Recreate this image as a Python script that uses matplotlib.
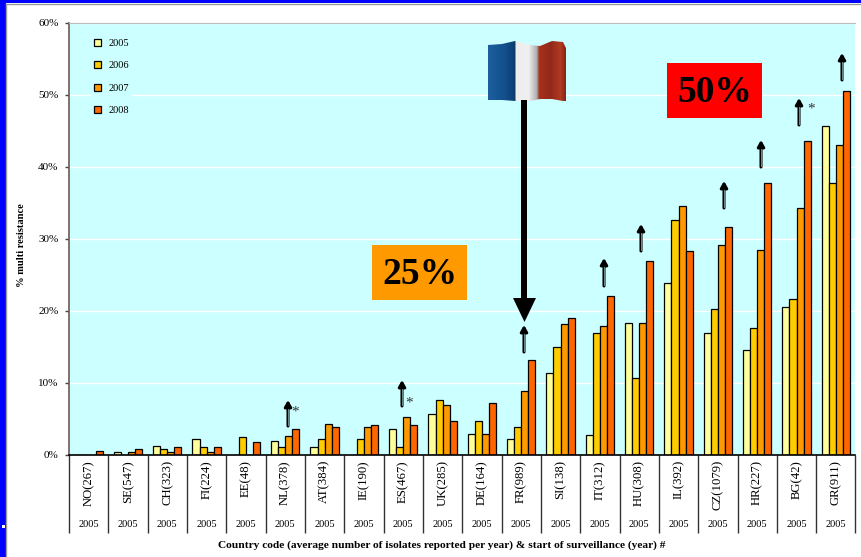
import numpy as np
import matplotlib
matplotlib.use("Agg")
import matplotlib.pyplot as plt
from matplotlib.patches import Rectangle, Polygon
from matplotlib.colors import to_rgb

plt.rcParams['font.family'] = ['Liberation Serif', 'DejaVu Serif']

countries = ["NO(267)", "SE(547)", "CH(323)", "FI(224)", "EE(48)", "NL(378)", "AT(384)",
             "IE(190)", "ES(467)", "UK(285)", "DE(164)", "FR(989)", "SI(138)", "IT(312)",
             "HU(308)", "IL(392)", "CZ(1079)", "HR(227)", "BG(42)", "GR(911)"]
start_year = ["2005"] * 20
years = ["2005", "2006", "2007", "2008"]

r2005 = [0, 0.3, 1.2, 2.1, 0, 1.9, 1.0, 0, 3.6, 5.7, 2.9, 2.1, 11.4, 2.7, 18.3, 23.8, 16.9, 14.5, 20.5, 45.7]
r2006 = [0, 0, 0.7, 1.0, 2.4, 1.0, 2.1, 2.1, 1.0, 7.6, 4.7, 3.8, 15.0, 16.9, 10.7, 32.6, 20.2, 17.6, 21.6, 37.8]
r2007 = [0, 0.3, 0.3, 0.3, 0, 2.6, 4.3, 3.8, 5.2, 6.9, 2.9, 8.8, 18.1, 17.8, 18.3, 34.5, 29.2, 28.5, 34.3, 43.1]
r2008 = [0.5, 0.7, 1.0, 1.0, 1.7, 3.6, 3.8, 4.1, 4.1, 4.6, 7.2, 13.1, 19.0, 22.1, 26.9, 28.3, 31.7, 37.7, 43.6, 50.5]
series = [r2005, r2006, r2007, r2008]
colors = ["#FFFF99", "#FFCC00", "#FF9900", "#FF6600"]

W, H = 862, 557
fig = plt.figure(figsize=(W / 100, H / 100), dpi=100, facecolor="white")
left, right, top, bottom = 69, 855.5, 23, 454.5
ax = fig.add_axes([left / W, 1 - bottom / H, (right - left) / W, (bottom - top) / H], facecolor="#CCFFFF")

x = np.arange(len(countries)) + 0.5
width = 0.18
for i, vals in enumerate(series):
    ax.bar(x + (i - 1.5) * width, vals, width, color=colors[i], edgecolor="black", linewidth=0.9,
           label=years[i], zorder=3)

ax.set_xlim(0, len(countries))
ax.set_ylim(0, 60)
ax.set_yticks(np.arange(0, 61, 10))
ax.set_yticklabels([f"{v}%" for v in range(0, 61, 10)], fontsize=8)
ax.grid(axis="y", color="white", linewidth=1.0, zorder=1)
ax.set_axisbelow(True)
ax.tick_params(axis="y", length=3, width=1, color="#444444", pad=4.5)
ax.set_xticks(np.arange(len(countries) + 1))
ax.set_xticklabels([])
ax.tick_params(axis="x", length=56.5, width=1, color="#333333")
ax.spines["top"].set_color("#BBBBBB")
ax.spines["right"].set_visible(False)
ax.spines["left"].set_color("#6B5A50")
ax.spines["left"].set_linewidth(1.2)
ax.spines["bottom"].set_color("black")
ax.spines["bottom"].set_linewidth(1.2)
ax.spines["bottom"].set_zorder(5)

for xi, name, yr in zip(x, countries, start_year):
    ax.annotate(name, (xi, 0), xytext=(0, -4), textcoords="offset points", rotation=90,
                ha="center", va="top", fontsize=9.2, annotation_clip=False)
    ax.annotate(yr, (xi, 0), xytext=(0, -50.5), textcoords="offset points",
                ha="center", va="center", fontsize=7.5, annotation_clip=False)

leg = ax.legend(loc="upper left", bbox_to_anchor=(22 / 786.5, 0.971), fontsize=7.5, frameon=True,
                facecolor="#CCFFFF", edgecolor="none", framealpha=1, handlelength=0.65, handleheight=0.65,
                handletextpad=0.7, labelspacing=1.28, borderpad=0.3, borderaxespad=0)
leg.set_zorder(4)

# overlay in pixel coordinates for the slide decorations
ov = fig.add_axes([0, 0, 1, 1], facecolor="none")
ov.axis("off")

ov.add_patch(Rectangle((0, 0), 6, H, color="#0000FF", lw=0))
ov.add_patch(Rectangle((0, 0), W, 3, color="#0000FF", lw=0))
ov.add_patch(Rectangle((2, 525), 3, 3, color="white", lw=0))
ov.plot([6.5, W], [3.7, 3.7], color="#999999", lw=1)
ov.plot([6.5, 6.5], [3.7, H], color="#999999", lw=1)

fig.text(22 / W, 1 - 245 / H, "% multi resistance", rotation=90, fontsize=7.6, fontweight="bold",
         ha="center", va="center")
fig.text(441.5 / W, 1 - 545 / H, "Country code (average number of isolates reported per year) & start of surveillance (year) #",
         fontsize=8.2, fontweight="bold", ha="center", va="center")

# orange and red boxes
for bx, by, c, t in [(372, 245, "#FF9900", "25%"), (667, 63, "#FF0000", "50%")]:
    ov.add_patch(Rectangle((bx, by), 95, 55, color=c, lw=0, zorder=5))
    ov.text(bx + 47.5, by + 29, t, fontsize=27, fontweight="bold", ha="center", va="center", zorder=6)

# flag: colour strip clipped to the wavy outline
fx = [488, 502, 515, 530, 540, 552, 563, 566]
ftop = [45, 44, 41, 45, 46, 41, 42, 48]
fbot = [100, 100, 101, 101, 99, 99, 101, 101]
stop_x = [488, 505, 514, 516, 528, 536, 539, 550, 560, 566]
stop_c = ["#1C5E9C", "#124F8C", "#0C3C6E", "#EDEDED", "#F0F0F0", "#B0B0B0", "#A8301A", "#92281A", "#B03A22", "#7E2414"]
stop_rgb = np.array([to_rgb(c) for c in stop_c])
cols = np.arange(488, 566)
strip = np.stack([np.interp(cols, stop_x, stop_rgb[:, k]) for k in range(3)], axis=-1)[np.newaxis, :, :]
im = ov.imshow(strip, extent=(488, 566, 102, 40), aspect="auto", interpolation="nearest", zorder=5)
outline = Polygon(list(zip(fx, ftop)) + list(zip(fx[::-1], fbot[::-1])), closed=True,
                  transform=ov.transData, facecolor="none", edgecolor="none")
ov.add_patch(outline)
im.set_clip_path(outline)
ov.set_xlim(0, W)
ov.set_ylim(H, 0)

# big black arrow
ov.add_patch(Polygon([(521, 100), (527, 100), (527, 298), (536, 298), (524.5, 322), (513, 298), (521, 298)],
                     closed=True, color="black", lw=0, zorder=5))

# small trend arrows: x, head y, tail y
small_x = [288, 402, 524, 604, 641, 724, 761, 799, 842]
small_head = [400, 380, 325, 258, 224, 181, 140, 98, 53]
small_tail = [426, 406, 352, 286, 251, 208, 167, 125, 80]
for sx, hy, ty in zip(small_x, small_head, small_tail):
    ov.annotate("", xy=(sx, hy), xytext=(sx, ty), zorder=6,
                arrowprops=dict(arrowstyle="-|>,head_width=0.2,head_length=0.35", lw=2.2, color="black",
                                shrinkA=0, shrinkB=0))
    ov.plot([sx, sx], [hy + 9, ty - 1], color="#6E8C8C", lw=0.7, zorder=7)

for sx, sy in [(295, 412), (409, 403), (811, 109)]:
    ov.text(sx, sy, "*", fontsize=11, ha="center", va="center", color="#333333", zorder=6)

fig.savefig("out.png", dpi=100)
